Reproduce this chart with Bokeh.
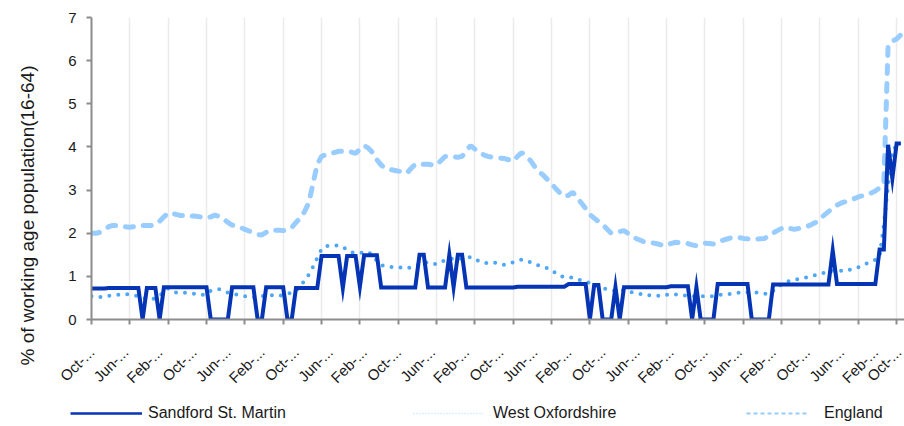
from math import pi
from bokeh.plotting import figure
from bokeh.layouts import column
from bokeh.models import (Range1d, FixedTicker, LinearAxis, Legend, LegendItem, Title)
from bokeh.embed import file_html
from bokeh.resources import INLINE

# monthly index, Oct 2004 = 0
months = list(range(191))

sandford = [
    0.72, 0.72, 0.72, 0.72, 0.73, 0.73, 0.73, 0.73, 0.73, 0.73, 0.73, 0.73, 0.0, 0.73, 0.73, 0.73,
    0.0, 0.75, 0.75, 0.75, 0.75, 0.75, 0.75, 0.75, 0.75, 0.75, 0.75, 0.75, 0.0, 0.0, 0.0, 0.0,
    0.0, 0.75, 0.75, 0.75, 0.75, 0.75, 0.75, 0.0, 0.0, 0.75, 0.75, 0.75, 0.75, 0.75, 0.0, 0.0,
    0.73, 0.73, 0.73, 0.73, 0.73, 0.73, 1.47, 1.47, 1.47, 1.47, 1.47, 0.73, 1.47, 1.47, 1.47, 0.76,
    1.49, 1.49, 1.49, 1.49, 0.74, 0.74, 0.74, 0.74, 0.74, 0.74, 0.74, 0.74, 0.74, 1.5, 1.5, 0.74,
    0.74, 0.74, 0.74, 0.74, 1.5, 0.75, 1.5, 1.5, 0.74, 0.74, 0.74, 0.74, 0.74, 0.74, 0.74, 0.74,
    0.74, 0.74, 0.74, 0.74, 0.76, 0.76, 0.76, 0.76, 0.76, 0.76, 0.76, 0.76, 0.76, 0.76, 0.76, 0.76,
    0.82, 0.82, 0.82, 0.82, 0.82, 0.0, 0.8, 0.8, 0.0, 0.0, 0.0, 0.75, 0.0, 0.75, 0.75, 0.75,
    0.75, 0.75, 0.75, 0.75, 0.75, 0.75, 0.75, 0.75, 0.77, 0.77, 0.77, 0.77, 0.77, 0.0, 0.75, 0.0,
    0.0, 0.0, 0.0, 0.82, 0.82, 0.82, 0.82, 0.82, 0.82, 0.82, 0.82, 0.0, 0.0, 0.0, 0.0, 0.0,
    0.81, 0.81, 0.81, 0.81, 0.81, 0.81, 0.81, 0.81, 0.81, 0.81, 0.81, 0.81, 0.81, 0.81, 1.6, 0.82,
    0.82, 0.82, 0.82, 0.82, 0.82, 0.82, 0.82, 0.82, 0.82, 1.62, 1.62, 4.05, 3.27, 4.08, 4.08,
]

west_oxfordshire = [
    0.54, 0.53, 0.52, 0.54, 0.55, 0.56, 0.57, 0.58, 0.59, 0.58, 0.56, 0.54, 0.50, 0.49, 0.47, 0.49,
    0.55, 0.65, 0.72, 0.66, 0.62, 0.62, 0.62, 0.61, 0.60, 0.58, 0.57, 0.58, 0.67, 0.68, 0.70, 0.67,
    0.62, 0.60, 0.58, 0.56, 0.54, 0.52, 0.51, 0.53, 0.54, 0.55, 0.56, 0.56, 0.55, 0.57, 0.60, 0.62,
    0.66, 0.78, 0.90, 1.04, 1.22, 1.43, 1.63, 1.70, 1.71, 1.71, 1.72, 1.68, 1.62, 1.56, 1.54, 1.54,
    1.56, 1.57, 1.48, 1.36, 1.26, 1.24, 1.22, 1.21, 1.21, 1.20, 1.18, 1.21, 1.24, 1.28, 1.31, 1.33,
    1.29, 1.28, 1.33, 1.37, 1.41, 1.41, 1.41, 1.41, 1.43, 1.45, 1.40, 1.35, 1.31, 1.31, 1.33, 1.31,
    1.28, 1.27, 1.29, 1.33, 1.36, 1.39, 1.36, 1.33, 1.29, 1.25, 1.22, 1.19, 1.15, 1.07, 1.01, 0.98,
    0.98, 0.97, 0.93, 0.91, 0.88, 0.85, 0.81, 0.77, 0.73, 0.70, 0.68, 0.66, 0.67, 0.68, 0.65, 0.63,
    0.61, 0.59, 0.56, 0.56, 0.56, 0.55, 0.54, 0.57, 0.59, 0.58, 0.57, 0.56, 0.55, 0.54, 0.54, 0.54,
    0.54, 0.53, 0.54, 0.56, 0.58, 0.59, 0.59, 0.60, 0.62, 0.63, 0.63, 0.63, 0.63, 0.61, 0.60, 0.59,
    0.66, 0.74, 0.81, 0.86, 0.90, 0.92, 0.94, 0.96, 0.98, 1.00, 1.03, 1.05, 1.08, 1.12, 1.13, 1.14,
    1.13, 1.12, 1.15, 1.18, 1.21, 1.25, 1.30, 1.34, 1.38, 1.45, 2.20, 3.10, 3.95, 4.00, 4.08,
]

england = [
    2.00, 2.00, 2.02, 2.08, 2.15, 2.18, 2.18, 2.17, 2.15, 2.14, 2.15, 2.17, 2.18, 2.18, 2.18, 2.20,
    2.28, 2.38, 2.47, 2.46, 2.43, 2.41, 2.41, 2.40, 2.40, 2.39, 2.37, 2.35, 2.38, 2.42, 2.39, 2.33,
    2.25, 2.19, 2.16, 2.13, 2.09, 2.05, 2.01, 1.97, 1.96, 2.02, 2.07, 2.07, 2.07, 2.06, 2.08, 2.13,
    2.25, 2.35, 2.50, 2.70, 3.15, 3.60, 3.78, 3.82, 3.85, 3.87, 3.90, 3.90, 3.90, 3.88, 3.85, 3.95,
    4.03, 3.97, 3.87, 3.70, 3.58, 3.50, 3.48, 3.46, 3.44, 3.42, 3.39, 3.50, 3.60, 3.60, 3.60, 3.60,
    3.58, 3.58, 3.68, 3.78, 3.78, 3.77, 3.76, 3.78, 3.92, 4.03, 3.95, 3.87, 3.82, 3.78, 3.76, 3.75,
    3.74, 3.73, 3.70, 3.67, 3.78, 3.87, 3.78, 3.69, 3.55, 3.43, 3.35, 3.25, 3.15, 3.03, 2.93, 2.85,
    2.88, 2.95, 2.82, 2.70, 2.57, 2.43, 2.35, 2.27, 2.20, 2.10, 2.00, 2.02, 2.04, 2.06, 1.99, 1.92,
    1.87, 1.83, 1.79, 1.78, 1.77, 1.75, 1.72, 1.71, 1.76, 1.79, 1.78, 1.77, 1.76, 1.73, 1.71, 1.74,
    1.77, 1.76, 1.75, 1.78, 1.83, 1.86, 1.89, 1.91, 1.90, 1.88, 1.87, 1.86, 1.86, 1.87, 1.88, 1.94,
    2.00, 2.06, 2.11, 2.14, 2.11, 2.09, 2.11, 2.14, 2.16, 2.20, 2.25, 2.33, 2.42, 2.50, 2.58, 2.65,
    2.70, 2.73, 2.77, 2.80, 2.84, 2.87, 2.90, 2.93, 2.98, 3.05, 3.15, 6.35, 6.45, 6.50, 6.60,
]

grid_ticks = list(range(0, 190, 9))
label_ticks = list(range(0, 185, 8)) + [190.8]
tick_labels = ["Oct-...", "Jun-...", "Feb-..."] * 8 + ["Oct-..."]

series_names = ["Sandford St. Martin", "West Oxfordshire", "England"]

FONT = "Liberation Sans"
TXT = "#1a1a1a"
NAN = float("nan")

p = figure(width=904, height=396, output_backend="svg", toolbar_location=None,
           x_range=Range1d(0, 190.85), y_range=Range1d(0, 7),
           min_border_left=91, min_border_right=0, min_border_top=17, min_border_bottom=77)
p.outline_line_color = None

p.ygrid.visible = False
p.xgrid.ticker = FixedTicker(ticks=grid_ticks)
p.xgrid.grid_line_color = "#ebebeb"
p.xgrid.grid_line_width = 1.5

# y axis
ya = p.yaxis[0]
ya.ticker = FixedTicker(ticks=[0, 1, 2, 3, 4, 5, 6, 7])
ya.axis_line_color = "#8c8c8c"
ya.axis_line_width = 2
ya.major_tick_line_color = "#8c8c8c"
ya.major_tick_line_width = 2
ya.major_tick_out = 5
ya.major_tick_in = 0
ya.minor_tick_line_color = None
ya.major_label_text_font = FONT
ya.major_label_text_font_size = "15px"
ya.major_label_text_color = TXT
ya.major_label_standoff = 10
ya.axis_label = "\u00a0"
ya.axis_label_text_font_size = "18.5px"
ya.axis_label_standoff = 3

ytitle = Title(text="% of working age population(16-64)", align="left", offset=-46,
               text_font=FONT, text_font_size="19px", text_font_style="normal",
               text_color=TXT, standoff=2)
p.add_layout(ytitle, "left")

# x axis with tick marks (no labels)
xa = p.xaxis[0]
xa.ticker = FixedTicker(ticks=grid_ticks)
xa.axis_line_color = "#8c8c8c"
xa.axis_line_width = 2
xa.major_tick_line_color = "#8c8c8c"
xa.major_tick_line_width = 2
xa.major_tick_out = 5
xa.major_tick_in = 0
xa.minor_tick_line_color = None
xa.major_label_text_font_size = "1px"
xa.major_label_text_color = None
xa.major_label_standoff = 0

# x axis carrying the month labels
xl = LinearAxis(ticker=FixedTicker(ticks=label_ticks),
                major_label_overrides={t: s for t, s in zip(label_ticks, tick_labels)})
xl.axis_line_color = None
xl.major_tick_line_color = None
xl.minor_tick_line_color = None
xl.major_label_orientation = pi / 4
xl.major_label_text_font = FONT
xl.major_label_text_font_size = "15px"
xl.major_label_text_color = TXT
xl.major_label_standoff = 19
p.add_layout(xl, "below")

c_s, c_w, c_e = "#0535b5", "#4ea6f7", "#99ccff"

p.line(months, england, line_color=c_e, line_width=5, line_dash="8 10", line_cap="round")
p.line(months, west_oxfordshire, line_color=c_w, line_width=4, line_dash="0 9", line_cap="round")
p.line(months, sandford, line_color=c_s, line_width=4, line_join="miter")

# legend strip
q = figure(width=904, height=30, output_backend="svg", toolbar_location=None,
           x_range=Range1d(0, 904), y_range=Range1d(0, 30),
           min_border_left=0, min_border_right=0, min_border_top=0, min_border_bottom=0)
q.outline_line_color = None
q.axis.visible = False
q.grid.visible = False

ls = q.line([NAN], [NAN], line_color=c_s, line_width=2.5)
lw = q.line([NAN], [NAN], line_color="#b8dcff", line_width=1.5, line_dash="1 2")
le = q.line([NAN], [NAN], line_color=c_e, line_width=2, line_dash="4 3")

for rend, name, loc, gw, st in [(ls, series_names[0], 70, 72, 6),
                                (lw, series_names[1], 413, 70, 10),
                                (le, series_names[2], 746, 61, 17)]:
    lg = Legend(items=[LegendItem(label=name, renderers=[rend])], location=(loc, 3),
                orientation="horizontal", glyph_width=gw, glyph_height=20, label_height=20,
                label_standoff=st, padding=0, margin=0, spacing=0,
                border_line_color=None, background_fill_alpha=0,
                label_text_font=FONT, label_text_font_size="16px", label_text_color=TXT)
    q.add_layout(lg)

layout = column(p, column(q, spacing=0), spacing=0)
open("out.html", "w").write(file_html(layout, INLINE))
